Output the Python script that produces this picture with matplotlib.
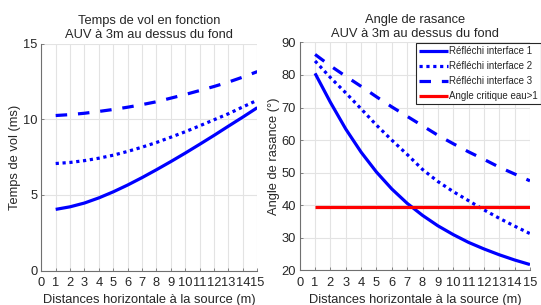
import matplotlib
matplotlib.use("Agg")
import matplotlib.pyplot as plt

# ---- data ----
distances = [1, 2, 3, 4, 5, 6, 7, 8, 9, 10, 11, 12, 13, 14, 15]
temps_interface1 = [4.05, 4.22, 4.47, 4.81, 5.21, 5.66, 6.15, 6.67, 7.21, 7.77, 8.35, 8.94, 9.55, 10.15, 10.77]
temps_interface2 = [7.08, 7.15, 7.27, 7.43, 7.63, 7.88, 8.16, 8.47, 8.82, 9.18, 9.57, 9.97, 10.37, 10.82, 11.26]
temps_interface3 = [10.25, 10.31, 10.40, 10.52, 10.65, 10.80, 10.97, 11.16, 11.40, 11.64, 11.90, 12.17, 12.46, 12.79, 13.15]
angle_interface1 = [80.5, 71.6, 63.4, 56.3, 50.2, 45.0, 40.6, 36.9, 33.7, 31.0, 28.6, 26.6, 24.8, 23.2, 21.8]
angle_interface2 = [84.3, 79.2, 74.5, 69.6, 64.6, 60.0, 55.6, 51.0, 47.3, 44.2, 41.4, 38.6, 36.0, 33.6, 31.3]
angle_interface3 = [86.3, 82.8, 79.6, 76.5, 73.3, 70.2, 67.3, 64.4, 61.5, 58.9, 56.4, 54.1, 51.7, 49.6, 47.5]
angle_critique = [39.6] * 15

labels = ["Réfléchi interface 1", "Réfléchi interface 2", "Réfléchi interface 3", "Angle critique eau>1"]
x_ticks = list(range(0, 16))
y_ticks_left = [0, 5, 10, 15]
y_ticks_right = [20, 30, 40, 50, 60, 70, 80, 90]

plt.rcParams['font.family'] = ['Liberation Sans', 'DejaVu Sans']
TXT = '#262626'
GRID = '#e3e3e3'
BLUE = '#0000ff'
FS = 9.3
LW = 2.3
DOT = (0, (1.0, 1.15))
DASH = (0, (3.6, 3.4))

fig = plt.figure(figsize=(5.41, 3.05), dpi=100)
ax1 = fig.add_axes([0.0763, 0.1125, 0.3993, 0.7445])
ax2 = fig.add_axes([0.554, 0.1134, 0.4256, 0.7476])

def style(ax, yt, ylim):
    ax.set_xlim(0, 15)
    ax.set_ylim(*ylim)
    ax.set_xticks(x_ticks)
    ax.set_yticks(yt)
    ax.grid(True, color=GRID, linewidth=0.8)
    ax.set_axisbelow(True)
    for s in ['top', 'right']:
        ax.spines[s].set_visible(False)
    for s in ['left', 'bottom']:
        ax.spines[s].set_color('#707070')
        ax.spines[s].set_linewidth(0.8)
    ax.tick_params(direction='in', length=2.5, width=0.6, colors='#707070',
                   labelcolor=TXT, labelsize=FS, pad=2.5)
    ax.tick_params(axis='x', pad=4.5)
    ax.set_xlabel("Distances horizontale à la source (m)", fontsize=FS, color=TXT, labelpad=3.5)

style(ax1, y_ticks_left, (0, 15))
ax1.plot(distances, temps_interface1, color=BLUE, lw=LW, solid_capstyle='butt')
ax1.plot(distances, temps_interface2, color=BLUE, lw=LW, linestyle=DOT, dash_capstyle='butt')
ax1.plot(distances, temps_interface3, color=BLUE, lw=LW, linestyle=DASH, dash_capstyle='butt')
ax1.set_ylabel("Temps de vol (ms)", fontsize=FS, color=TXT, labelpad=1.5)
ax1.set_title("Temps de vol en fonction\nAUV à 3m au dessus du fond", fontsize=FS, color=TXT, pad=4, linespacing=1.2)

style(ax2, y_ticks_right, (20, 90))
h1, = ax2.plot(distances, angle_interface1, color=BLUE, lw=LW, solid_capstyle='butt')
h2, = ax2.plot(distances, angle_interface2, color=BLUE, lw=LW, linestyle=DOT, dash_capstyle='butt')
h3, = ax2.plot(distances, angle_interface3, color=BLUE, lw=LW, linestyle=DASH, dash_capstyle='butt')
h4, = ax2.plot(distances, angle_critique, color='#ff0000', lw=LW, solid_capstyle='butt')
ax2.set_ylabel("Angle de rasance (°)", fontsize=FS, color=TXT, labelpad=1.5)
ax2.set_title("Angle de rasance\nAUV à 3m au dessus du fond", fontsize=FS, color=TXT, pad=4, linespacing=1.2)

leg = fig.legend([h1, h2, h3, h4], labels, loc='upper left',
                 bbox_to_anchor=(416 / 541, 1 - 43 / 305), fontsize=7.0,
                 frameon=True, fancybox=False, edgecolor=TXT, framealpha=1,
                 handlelength=2.9, handletextpad=0.1, labelspacing=0.5,
                 borderpad=0.35, borderaxespad=0)
leg.get_frame().set_linewidth(0.8)
for t in leg.get_texts():
    t.set_color(TXT)

fig.savefig("out.png", dpi=100)
